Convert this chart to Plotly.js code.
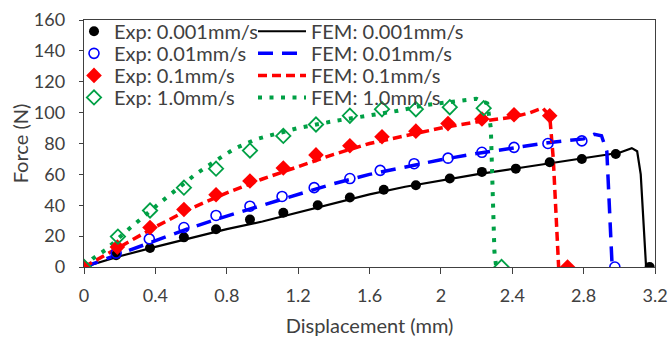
<!DOCTYPE html>
<html>
<head>
<meta charset="utf-8">
<script src="https://cdn.plot.ly/plotly-3.0.1.min.js"></script>
<style>html,body{margin:0;padding:0;background:#fff;}#chart{width:669px;height:337px;}</style>
</head>
<body>
<div id="chart"></div>
<script>
// Experimental data (displacement mm, force N)
const expX_0001 = [0, 0.18, 0.37, 0.56, 0.74, 0.93, 1.117, 1.31, 1.49, 1.68, 1.86, 2.05, 2.23, 2.42, 2.61, 2.79, 2.98, 3.17];
const expY_0001 = [0, 7.6, 12.3, 19.2, 24.5, 30.7, 35.1, 40, 45, 50, 53, 57.3, 61.6, 63.7, 67.9, 70, 73.2, 0];
const expX_001 = [0, 0.18, 0.366, 0.56, 0.74, 0.93, 1.11, 1.29, 1.49, 1.66, 1.85, 2.04, 2.23, 2.41, 2.6, 2.79, 2.975];
const expY_001 = [0, 9, 18.2, 25.6, 33.4, 39.4, 45.7, 51.4, 57.3, 62.6, 66.9, 70.5, 74.3, 77.5, 80, 81.7, 0];
const expX_01 = [0, 0.187, 0.37, 0.56, 0.74, 0.93, 1.117, 1.30, 1.49, 1.67, 1.86, 2.04, 2.23, 2.41, 2.61, 2.71];
const expY_01 = [0, 12.9, 25.6, 37.2, 46.8, 55.7, 64.1, 72.6, 78.5, 84.4, 88, 92.9, 95.9, 98.6, 98, 0];
const expX_1 = [0, 0.19, 0.37, 0.56, 0.74, 0.93, 1.117, 1.30, 1.49, 1.67, 1.86, 2.05, 2.24, 2.34];
const expY_1 = [0, 19.7, 36.6, 51.4, 63.7, 75.4, 84.9, 92.3, 98, 102.2, 102.2, 103.5, 102.9, 0];

// FEM curves
const femX_0001 = [0, 0.2, 0.4, 0.6, 0.8, 1.0, 1.2, 1.4, 1.6, 1.8, 2.0, 2.2, 2.4, 2.6, 2.8, 3.0, 3.07, 3.1, 3.12, 3.14, 3.15];
const femY_0001 = [0, 7, 13, 19, 24.5, 29.5, 35.5, 41.5, 47, 52, 56, 60, 63.5, 67, 70.5, 74, 77, 75, 60, 20, 0];
const femX_001 = [0, 0.2, 0.4, 0.6, 0.8, 1.0, 1.2, 1.4, 1.6, 1.8, 2.0, 2.2, 2.4, 2.6, 2.8, 2.86, 2.9, 2.93, 2.96];
const femY_001 = [0, 8.5, 17, 25.5, 33, 40, 47, 54, 60, 65, 69.5, 73.5, 77, 80.5, 83, 86, 85, 75, 0];
const femX_01 = [0, 0.2, 0.4, 0.6, 0.8, 1.0, 1.2, 1.4, 1.6, 1.8, 2.0, 2.2, 2.4, 2.5, 2.57, 2.61, 2.63, 2.66];
const femY_01 = [0, 13, 26, 38, 48, 57, 65, 73, 80, 85, 90, 94, 97, 100, 103, 98, 70, 0];
const femX_1 = [0, 0.05, 0.12, 0.25, 0.43, 0.63, 0.78, 0.85, 0.97, 1.2, 1.4, 1.57, 1.75, 1.92, 2.12, 2.2, 2.26, 2.28, 2.29, 2.3, 2.31];
const femY_1 = [0, 5.5, 11, 24.5, 42, 60.5, 72, 77, 83, 90, 94.5, 97.5, 101, 105, 108, 109, 106, 90, 50, 10, 0];

const xTicks = [0, 0.4, 0.8, 1.2, 1.6, 2, 2.4, 2.8, 3.2];
const yTicks = [0, 20, 40, 60, 80, 100, 120, 140, 160];

const FONT = 'Lato, "Open Sans", sans-serif';
const TXT = '#404040';
const GREEN = '#00A045';

const traces = [
  {x: femX_0001, y: femY_0001, mode: 'lines', name: 'FEM: 0.001mm/s', legend: 'legend2',
   line: {color: '#000000', width: 2.2, dash: 'solid'}},
  {x: femX_001, y: femY_001, mode: 'lines', name: 'FEM: 0.01mm/s', legend: 'legend4',
   line: {color: '#0000FF', width: 3.5, dash: '15px,9px'}},
  {x: femX_01, y: femY_01, mode: 'lines', name: 'FEM: 0.1mm/s', legend: 'legend6',
   line: {color: '#FF0000', width: 3.5, dash: '9px,5px'}},
  {x: femX_1, y: femY_1, mode: 'lines', name: 'FEM: 1.0mm/s', legend: 'legend8',
   line: {color: GREEN, width: 4, dash: '4px,7.5px'}},
  {x: expX_0001, y: expY_0001, mode: 'markers', name: 'Exp: 0.001mm/s', legend: 'legend',
   marker: {symbol: 'circle', size: 10, color: '#000000'}},
  {x: expX_001, y: expY_001, mode: 'markers', name: 'Exp: 0.01mm/s', legend: 'legend3',
   marker: {symbol: 'circle-open', size: 10, color: '#0000FF', line: {width: 1.6, color: '#0000FF'}}},
  {x: expX_01, y: expY_01, mode: 'markers', name: 'Exp: 0.1mm/s', legend: 'legend5',
   marker: {symbol: 'diamond', size: 12, color: '#FF0000'}},
  {x: expX_1, y: expY_1, mode: 'markers', name: 'Exp: 1.0mm/s', legend: 'legend7',
   marker: {symbol: 'diamond-open', size: 11, color: GREEN, line: {width: 1.8, color: GREEN}}}
];

// plot area in pixels: left 84, right 655, top 15, bottom 267
const PL = 84, PW = 571, PT = 15, PH = 252;
const px2x = p => (p - PL) / PW;
const px2y = p => 1 - (p - PT) / PH;
const rowY = [26.5, 49, 71.5, 94];

function mkLegend(xpx, ypx, iw) {
  return {
    xref: 'paper', yref: 'paper', xanchor: 'left', yanchor: 'middle',
    x: px2x(xpx), y: px2y(ypx), itemwidth: iw,
    bgcolor: 'rgba(0,0,0,0)', borderwidth: 0, traceorder: 'normal',
    font: {family: FONT, size: 20, color: TXT}, tracegroupgap: 0
  };
}

const layout = {
  width: 669, height: 337,
  margin: {l: 84, r: 14, t: 15, b: 70},
  paper_bgcolor: '#ffffff', plot_bgcolor: '#ffffff',
  font: {family: FONT, size: 18, color: TXT},
  showlegend: true,
  legend: mkLegend(74, rowY[0], 30),
  legend2: mkLegend(253, rowY[0], 48),
  legend3: mkLegend(74, rowY[1], 30),
  legend4: mkLegend(253, rowY[1], 48),
  legend5: mkLegend(74, rowY[2], 30),
  legend6: mkLegend(253, rowY[2], 48),
  legend7: mkLegend(74, rowY[3], 30),
  legend8: mkLegend(253, rowY[3], 48),
  xaxis: {
    range: [0, 3.2], tickvals: xTicks, ticktext: xTicks.map(String), tickangle: 0,
    showgrid: false, zeroline: false, showline: true, linecolor: '#404040', linewidth: 1.2,
    mirror: true, ticks: 'outside', ticklen: 6, tickcolor: '#404040',
    tickfont: {family: FONT, size: 18, color: TXT}, ticklabelstandoff: 6,
    title: {text: 'Displacement (mm)', font: {family: FONT, size: 20, color: TXT}}
  },
  yaxis: {
    range: [0, 160], tickvals: yTicks, ticktext: yTicks.map(String),
    showgrid: false, zeroline: false, showline: true, linecolor: '#404040', linewidth: 1.2,
    mirror: true, ticks: 'outside', ticklen: 4, tickcolor: '#404040',
    tickfont: {family: FONT, size: 18, color: TXT}, ticklabelstandoff: 10,
    title: {text: 'Force (N)', font: {family: FONT, size: 20, color: TXT}}
  }
};

Plotly.newPlot('chart', traces, layout, {displayModeBar: false, staticPlot: true});
</script>
</body>
</html>
